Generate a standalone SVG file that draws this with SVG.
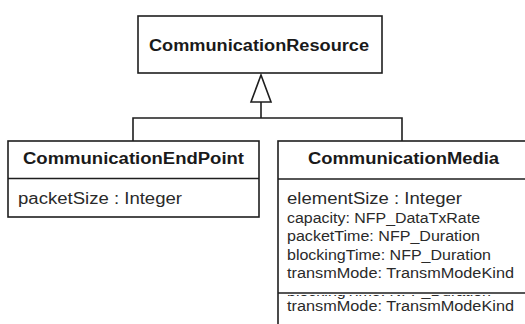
<svg xmlns="http://www.w3.org/2000/svg" width="525" height="324" viewBox="0 0 525 324">
<style>
.box{fill:#ffffff;stroke:#1e1e1e;stroke-width:1.6}
.ln{fill:none;stroke:#1e1e1e;stroke-width:1.6}
.title{font-family:"Liberation Sans",Arial,sans-serif;font-weight:bold;font-size:16px;fill:#1a1a1a}
.attr{font-family:"Liberation Sans",Arial,sans-serif;font-size:16px;fill:#2a2a2a}
.small{font-family:"Liberation Sans",Arial,sans-serif;font-size:14px;fill:#2a2a2a}
</style>
<defs>
<clipPath id="clipCut"><rect x="279" y="295" width="246" height="12"/></clipPath>
</defs>
<rect width="525" height="324" fill="#ffffff"/>
<g id="connectors">
<polyline class="ln" points="133,141 133,118 402,118 402,141"/>
<line class="ln" x1="261" y1="118" x2="261" y2="102"/>
<polygon class="ln" fill="#ffffff" points="261,75 251,102 271,102"/>
</g>
<g id="CommunicationResource">
<rect class="box" x="138" y="16" width="244" height="57"/>
<text class="title" x="149" y="51" font-size="16.5" textLength="220" lengthAdjust="spacingAndGlyphs">CommunicationResource</text>
</g>
<g id="CommunicationEndPoint">
<rect class="box" x="8" y="141" width="251" height="76"/>
<line class="ln" x1="8" y1="178.5" x2="259" y2="178.5"/>
<text class="title" x="23" y="164" textLength="221" lengthAdjust="spacingAndGlyphs">CommunicationEndPoint</text>
<text class="attr" x="18" y="204" textLength="164" lengthAdjust="spacingAndGlyphs">packetSize : Integer</text>
</g>
<g id="CommunicationMedia">
<rect class="box" x="278" y="141" width="260" height="200"/>
<line class="ln" x1="278" y1="179" x2="525" y2="179"/>
<line class="ln" x1="278" y1="293" x2="525" y2="293"/>
<text class="title" x="308" y="164" textLength="191" lengthAdjust="spacingAndGlyphs">CommunicationMedia</text>
<text class="attr" x="287" y="204" textLength="175" lengthAdjust="spacingAndGlyphs">elementSize : Integer</text>
<text class="small" x="287" y="223" textLength="193" lengthAdjust="spacingAndGlyphs">capacity: NFP_DataTxRate</text>
<text class="small" x="287" y="241" textLength="193" lengthAdjust="spacingAndGlyphs">packetTime: NFP_Duration</text>
<text class="small" x="287" y="259.5" textLength="204" lengthAdjust="spacingAndGlyphs">blockingTime: NFP_Duration</text>
<text class="small" x="287" y="278" textLength="227" lengthAdjust="spacingAndGlyphs">transmMode: TransmModeKind</text>
<text class="small" x="287" y="296" textLength="204" lengthAdjust="spacingAndGlyphs" clip-path="url(#clipCut)">blockingTime: NFP_Duration</text>
<text class="small" x="287" y="311" textLength="227" lengthAdjust="spacingAndGlyphs">transmMode: TransmModeKind</text>
</g>
</svg>
